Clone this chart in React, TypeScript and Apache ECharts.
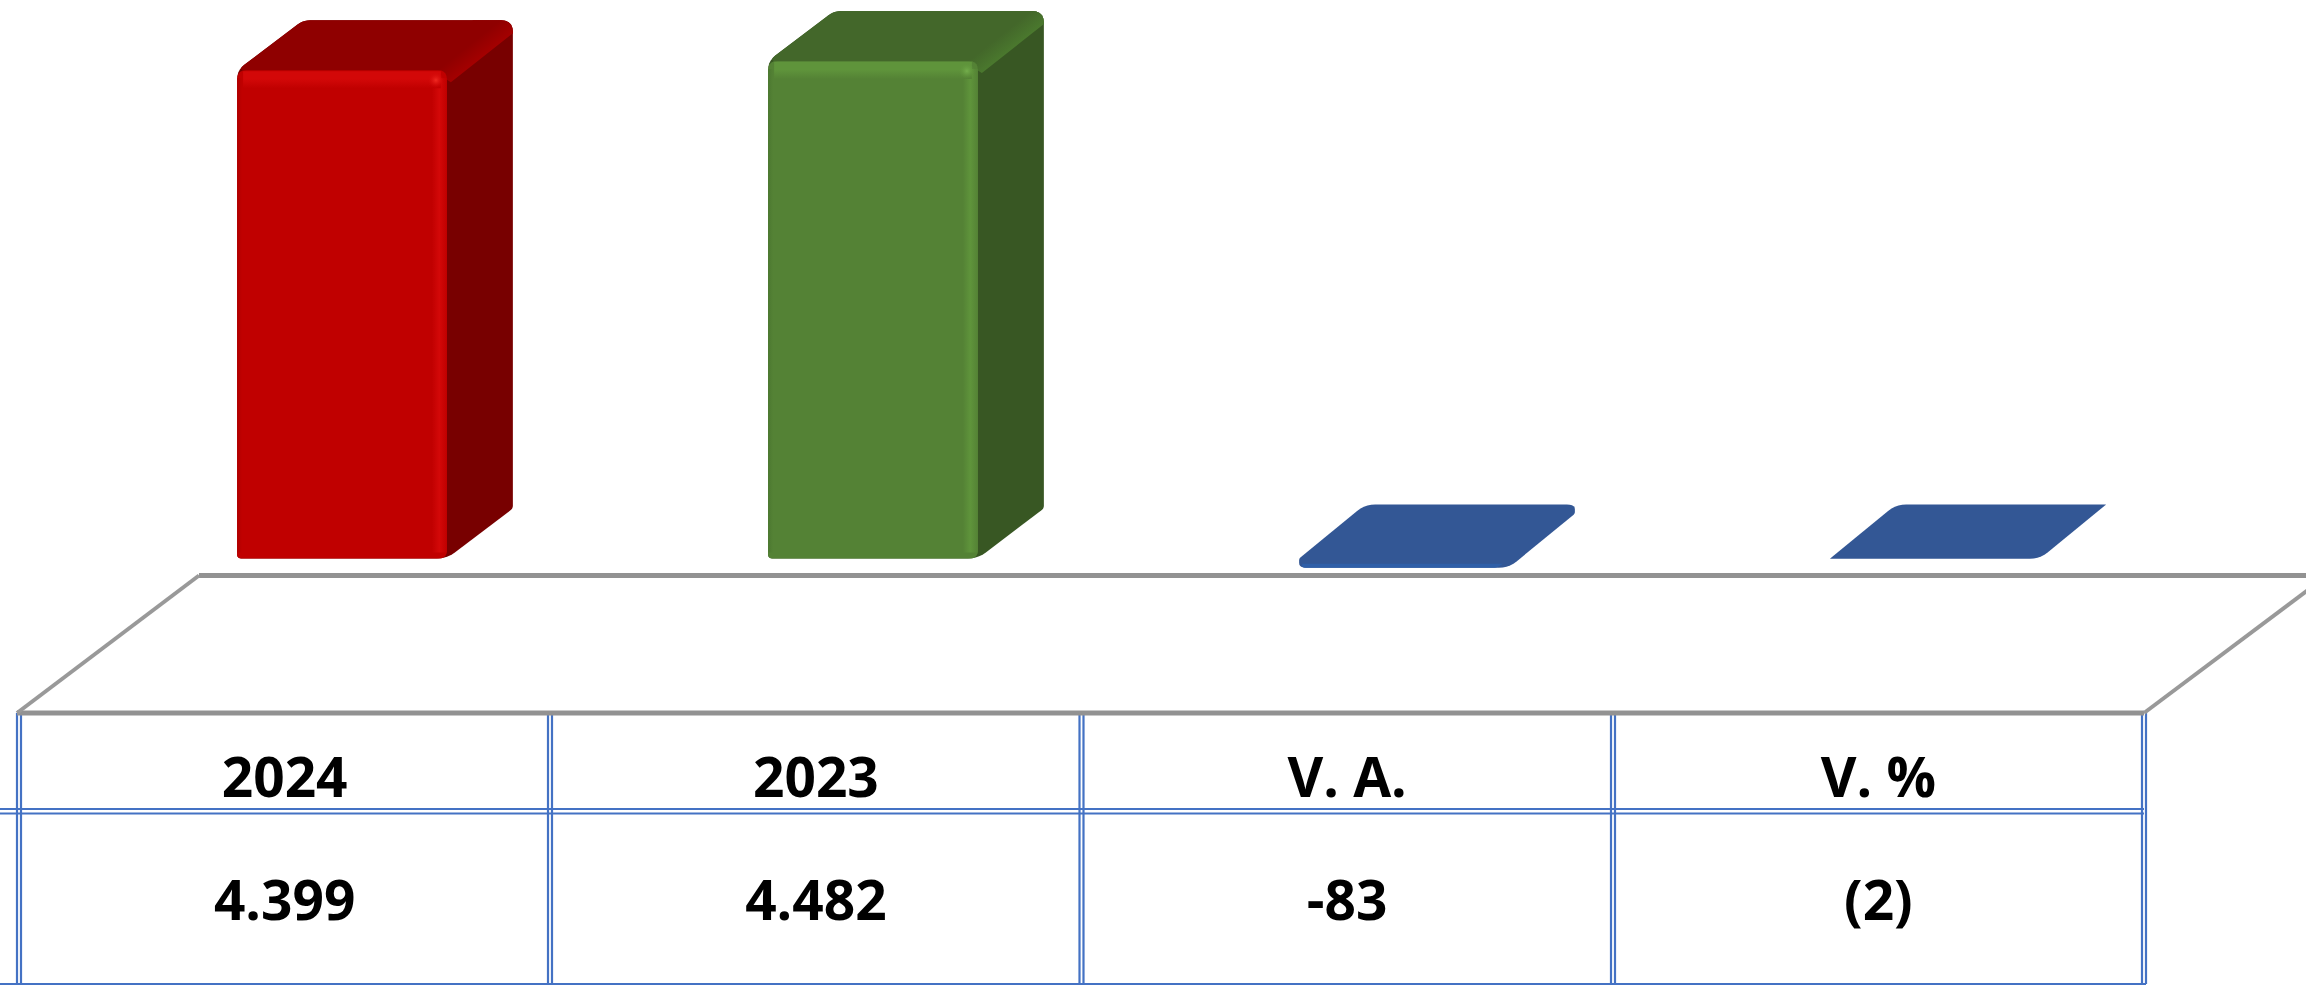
import React, { useEffect, useRef } from "react";
import * as echarts from "echarts";

const headers = ["2024", "2023", "V. A.", "V. %"];
const rowLabels = ["4.399", "4.482", "-83", "(2)"];
const barValues = [4399, 4482, -83, -2];

const palettes = [
  { front: "#C00000", top: "#8F0000", side: "#780000", edge: "#D30808", ridge: "#A60000", spot: "#F02A22", dark: "#B00000" },
  { front: "#548235", top: "#43672A", side: "#385723", edge: "#5F943B", ridge: "#4B7A2E", spot: "#74AE4C", dark: "#4C7830" },
  { front: "#2F5FA8", top: "#335795", side: "#335795", edge: "#2F5FA8", ridge: "#335795", spot: "#335795", dark: "#2F5FA8" },
  { front: "#335795", top: "#335795", side: "#335795", edge: "#335795", ridge: "#335795", spot: "#335795", dark: "#335795" },
];

type P = [number, number];

function rounded(pts: P[], radii: number[]): P[] {
  const out: P[] = [];
  const n = pts.length;
  pts.forEach((p, i) => {
    const r = radii[i];
    if (!r) {
      out.push(p);
      return;
    }
    const a = pts[(i - 1 + n) % n];
    const b = pts[(i + 1) % n];
    const la = Math.hypot(a[0] - p[0], a[1] - p[1]) || 1;
    const lb = Math.hypot(b[0] - p[0], b[1] - p[1]) || 1;
    const ra = Math.min(r, la / 2);
    const rb = Math.min(r, lb / 2);
    const s: P = [p[0] + ((a[0] - p[0]) * ra) / la, p[1] + ((a[1] - p[1]) * ra) / la];
    const e: P = [p[0] + ((b[0] - p[0]) * rb) / lb, p[1] + ((b[1] - p[1]) * rb) / lb];
    for (let k = 0; k <= 5; k++) {
      const t = k / 5;
      const u = 1 - t;
      out.push([
        u * u * s[0] + 2 * u * t * p[0] + t * t * e[0],
        u * u * s[1] + 2 * u * t * p[1] + t * t * e[1],
      ]);
    }
  });
  return out;
}

const poly = (pts: P[], radii: number[], fill: any) => ({
  type: "polygon",
  shape: { points: rounded(pts, radii) },
  style: { fill },
  silent: true,
});

function renderBar(params: any, api: any) {
  const i = api.value(0);
  const val = api.value(1);
  const c = palettes[params.dataIndex];
  const [cx, y0] = api.coord([i, 0]);
  const [, yV] = api.coord([i, val]);
  const w = api.size([1, 0])[0] * 0.395;
  const x = cx - w / 2;
  const x2 = x + w;
  const yTop = Math.min(y0, yV);
  const yBot = Math.max(y0, yV);
  const tall = yBot - yTop > 100;
  const dx = 66;
  const dy = tall ? 50 : 54;
  const backY = yTop - dy;
  const silhouette: P[] = [
    [x, yBot],
    [x, yTop],
    [x + dx, backY],
    [x2 + dx, backY],
    [x2 + dx, yBot - dy],
    [x2, yBot],
  ];
  const children: any[] = [];
  if (tall) {
    children.push(
      poly(silhouette, [4, 9, 7, 12, 3, 10], c.side),
      poly(
        [[x, yTop], [x + dx, backY], [x2 + dx, backY], [x2 + dx, backY + 24], [x2 + dx, backY + 13], [x2, yTop + 4]],
        [9, 7, 12, 0, 0, 0],
        c.top
      ),
      poly(
        [[x2 - 12, yTop + 2], [x2 + dx - 40, backY], [x2 + dx, backY], [x2 + dx, backY + 24], [x2 + dx, backY + 13], [x2 + 4, yTop + 12]],
        [0, 0, 12, 0, 0, 0],
        new echarts.graphic.LinearGradient(0, 0, 1, 1, [
          { offset: 0, color: c.top },
          { offset: 0.42, color: c.top },
          { offset: 0.62, color: c.ridge },
          { offset: 0.76, color: c.ridge },
          { offset: 0.9, color: c.side },
          { offset: 1, color: c.side },
        ])
      ),
      poly([[x, yTop], [x2, yTop], [x2, yBot], [x, yBot]], [9, 9, 8, 4], c.front),
      {
        type: "rect",
        shape: { x: x2 - 15, y: yTop + 8, width: 15, height: yBot - yTop - 14 },
        style: {
          fill: new echarts.graphic.LinearGradient(0, 0, 1, 0, [
            { offset: 0, color: c.front },
            { offset: 0.5, color: c.edge },
            { offset: 1, color: c.front },
          ]),
        },
        silent: true,
      },
      {
        type: "rect",
        shape: { x: x + 6, y: yTop + 1, width: w - 12, height: 17 },
        style: {
          fill: new echarts.graphic.LinearGradient(0, 0, 0, 1, [
            { offset: 0, color: c.edge },
            { offset: 0.45, color: c.edge },
            { offset: 1, color: c.front },
          ]),
        },
        silent: true,
      },
      {
        type: "rect",
        shape: { x, y: yTop + 8, width: 5, height: yBot - yTop - 14 },
        style: {
          fill: new echarts.graphic.LinearGradient(0, 0, 1, 0, [
            { offset: 0, color: c.dark },
            { offset: 1, color: c.front },
          ]),
        },
        silent: true,
      },
      {
        type: "circle",
        shape: { cx: x2 - 11, cy: yTop + 10, r: 8 },
        style: {
          fill: new echarts.graphic.RadialGradient(0.5, 0.5, 0.5, [
            { offset: 0, color: c.spot },
            { offset: 1, color: c.edge + "00" },
          ]),
        },
        silent: true,
      }
    );
  } else {
    children.push(poly(silhouette, [7, 2, 10, 8, 2, 10], c.top));
    if (yBot - yTop > 4) {
      children.push(
        poly([[x + 3, yBot - 4], [x2 - 6, yBot - 4], [x2 - 12, yBot], [x + 3, yBot]], [0, 0, 4, 4], c.front)
      );
    }
  }
  return { type: "group", children };
}

const blue = "#4472C4";
const lineStyle = { stroke: blue, lineWidth: 2.2 };
const gray = { stroke: "#929292", lineWidth: 5 };

const columnEdges = [19, 550, 1081.5, 1613, 2144];

function tableGraphics() {
  const els: any[] = [];
  const hline = (x1: number, y1: number, x2: number, y2: number, style: any) => ({
    type: "line",
    shape: { x1, y1, x2, y2 },
    style,
    silent: true,
  });
  columnEdges.forEach((x) => {
    els.push(hline(x - 2, 713, x - 2, 984, lineStyle));
    els.push(hline(x + 2, 713, x + 2, 984, lineStyle));
  });
  els.push(hline(0, 809, 2144, 809, lineStyle));
  els.push(hline(0, 813.5, 2144, 813.5, lineStyle));
  els.push(hline(0, 984, 2146, 984, lineStyle));
  els.push(hline(199, 575.5, 2306, 575.5, gray));
  els.push(hline(17, 713, 2144, 713, gray));
  els.push(hline(17, 713, 199, 575.5, { stroke: "#999999", lineWidth: 4 }));
  els.push(hline(2144, 713, 2324, 578, { stroke: "#999999", lineWidth: 4 }));
  return els;
}

const labelBase = {
  show: true,
  inside: true,
  interval: 0,
  fontFamily: "Open Sans",
  fontWeight: 700,
  fontSize: 55,
  color: "#000000",
  verticalAlign: "middle" as const,
  align: "center" as const,
  hideOverlap: false,
};

export default function App() {
  const ref = useRef<HTMLDivElement>(null);
  useEffect(() => {
    const chart = echarts.init(ref.current!, null, { renderer: "svg" });
    chart.setOption({
      animation: false,
      backgroundColor: "#FFFFFF",
      grid: [
        { left: 76.5, width: 2124, top: 59, height: 555 },
        { left: 19, width: 2125, top: 712, height: 271 },
      ],
      xAxis: [
        { type: "category", gridIndex: 0, data: headers, show: false },
        {
          type: "category",
          gridIndex: 1,
          position: "top",
          data: headers,
          axisLine: { show: false },
          axisTick: { show: false },
          axisLabel: { ...labelBase, margin: 63 },
        },
        {
          type: "category",
          gridIndex: 1,
          position: "bottom",
          data: rowLabels,
          axisLine: { show: false },
          axisTick: { show: false },
          axisLabel: { ...labelBase, margin: 85 },
        },
      ],
      yAxis: [
        { type: "value", gridIndex: 0, min: -500, max: 4500, show: false },
        { type: "value", gridIndex: 1, min: 0, max: 1, show: false },
      ],
      series: [
        {
          type: "custom",
          xAxisIndex: 0,
          yAxisIndex: 0,
          silent: true,
          renderItem: renderBar,
          encode: { x: 0, y: 1 },
          data: barValues.map((v, i) => [i, v]),
        },
      ],
      graphic: tableGraphics(),
    });
    return () => chart.dispose();
  }, []);
  return (
    <div
      ref={ref}
      style={{ position: "absolute", left: 0, top: 0, width: 2306, height: 985 }}
    />
  );
}
